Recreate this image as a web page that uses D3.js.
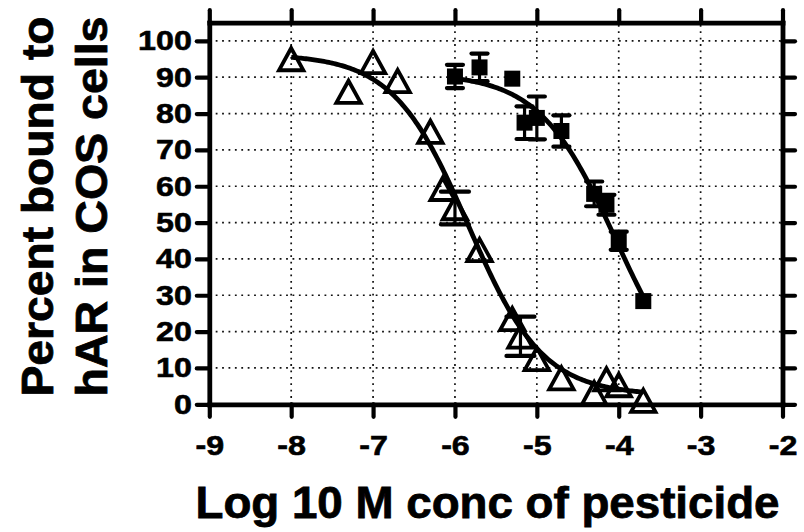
<!DOCTYPE html>
<html>
<head>
<meta charset="utf-8">
<script src="https://cdn.jsdelivr.net/npm/d3@7"></script>
<style>
  body { margin: 0; background: #fff; }
  svg { display: block; }
  text { font-family: "Liberation Sans", Arial, Helvetica, sans-serif; font-weight: bold; fill: #000; }
</style>
</head>
<body>
<svg id="chart" width="804" height="532"></svg>
<script>
// Axis ticks
const xTicks = [-9, -8, -7, -6, -5, -4, -3, -2];
const yTicks = [0, 10, 20, 30, 40, 50, 60, 70, 80, 90, 100];

// Open triangles: log10 molar concentration, percent bound, SEM
const triLogConc = [-8, -7.3, -7, -6.7, -6.3, -6.15, -6, -5.7, -5.3, -5.2, -5, -4.7, -4.3, -4.15, -4, -3.7];
const triPercent = [95, 86, 94.2, 89, 75, 59.3, 54, 42.5, 23.5, 18.7, 12.5, 7.2, 3.1, 6.9, 5.3, 1.0];
const triSem     = [0, 0, 0, 0, 0, 0, 4.5, 0, 0, 5.4, 0, 0, 0, 0, 0, 0];

// Filled squares: log10 molar concentration, percent bound, SEM
const sqLogConc = [-6, -5.7, -5.3, -5.15, -5, -4.7, -4.3, -4.15, -4, -3.7];
const sqPercent = [90.2, 92.7, 89.6, 77.5, 78.8, 75.2, 57.9, 54.9, 45.0, 28.4];
const sqSem     = [3.2, 3.8, 0, 4.5, 5.9, 4.3, 3.4, 2.75, 2.5, 0];

// Sigmoidal dose-response fits (top, bottom, logEC50, Hill slope, fitted range)
const triFit = { top: 96.3, bottom: 2.5, logEC50: -5.84, hill: 0.95, from: -8, to: -3.7 };
const sqFit  = { top: 91,   bottom: 0,   logEC50: -4.04, hill: 0.93, from: -6, to: -3.7 };

const xTitle = "Log 10 M conc of pesticide";
const yTitleLines = ["Percent bound to", "hAR in COS cells"];

const svg = d3.select("#chart");
const x = d3.scaleLinear().domain([-9, -2]).range([209.3, 782.5]);
const y = d3.scaleLinear().domain([0, 105]).range([404.3, 22.7]);

// dotted grid
const grid = svg.append("g").attr("stroke", "#111").attr("stroke-width", 1.7)
  .attr("stroke-dasharray", "1.8,4.6");
grid.selectAll("line.v").data(xTicks.slice(1, -1)).join("line")
  .attr("x1", d => x(d)).attr("x2", d => x(d))
  .attr("y1", y(0)).attr("y2", y(105));
grid.selectAll("line.h").data(yTicks.slice(1)).join("line")
  .attr("x1", x(-9)).attr("x2", x(-2))
  .attr("y1", d => y(d)).attr("y2", d => y(d));

// axes on all four sides
const tick = 12.5;
const fmt = d => String(d);
function styleAxis(g) {
  g.select(".domain").attr("stroke-width", 4.8).attr("stroke-linecap", "square");
  g.selectAll(".tick line").attr("stroke-width", 4.2).attr("stroke-linecap", "round");
  g.selectAll(".tick text").attr("font-size", 28).attr("fill", "#000")
    .attr("stroke", "#000").attr("stroke-width", 0.6)
    .style("font-family", '"Liberation Sans", Arial, sans-serif').style("font-weight", "bold")
    .each(function () {
      const w = this.getComputedTextLength();
      d3.select(this).attr("textLength", w * 1.15).attr("lengthAdjust", "spacingAndGlyphs");
    });
}
svg.append("g").attr("transform", `translate(0,${y(0)})`)
  .call(d3.axisBottom(x).tickValues(xTicks).tickFormat(fmt).tickSize(tick).tickSizeOuter(0).tickPadding(18))
  .call(styleAxis);
svg.append("g").attr("transform", `translate(0,${y(105)})`)
  .call(d3.axisTop(x).tickValues(xTicks).tickFormat("").tickSize(tick).tickSizeOuter(0))
  .call(styleAxis);
svg.append("g").attr("transform", `translate(${x(-9)},0)`)
  .call(d3.axisLeft(y).tickValues(yTicks).tickFormat(fmt).tickSize(tick).tickSizeOuter(0).tickPadding(5))
  .call(styleAxis);
svg.append("g").attr("transform", `translate(${x(-2)},0)`)
  .call(d3.axisRight(y).tickValues(yTicks).tickFormat("").tickSize(tick).tickSizeOuter(0))
  .call(styleAxis);

// fitted curves
function logistic(p, xv) {
  return p.bottom + (p.top - p.bottom) / (1 + Math.pow(10, (xv - p.logEC50) * p.hill));
}
const line = d3.line().x(d => x(d[0])).y(d => y(d[1])).curve(d3.curveLinear);
[triFit, sqFit].forEach(p => {
  const pts = d3.range(p.from, p.to + 1e-9, 0.02).map(v => [v, logistic(p, v)]);
  svg.append("path").datum(pts).attr("d", line)
    .attr("fill", "none").attr("stroke", "#000").attr("stroke-width", 4.8)
    .attr("stroke-linecap", "butt");
});

// error bars
function errorBars(xs, ys, es, capHalf) {
  const g = svg.append("g").attr("stroke", "#000");
  xs.forEach((xv, i) => {
    if (!es[i]) return;
    const cx = x(xv), yt = y(ys[i] + es[i]), yb = y(ys[i] - es[i]);
    g.append("line").attr("x1", cx).attr("x2", cx).attr("y1", yt).attr("y2", yb).attr("stroke-width", 3.2);
    [yt, yb].forEach(yy => g.append("line")
      .attr("x1", cx - capHalf).attr("x2", cx + capHalf).attr("y1", yy).attr("y2", yy)
      .attr("stroke-width", 4.2).attr("stroke-linecap", "round"));
  });
}
errorBars(sqLogConc, sqPercent, sqSem, 8);
errorBars(triLogConc, triPercent, triSem, 14);

// filled squares
const sq = 16;
svg.append("g").selectAll("rect").data(sqLogConc).join("rect")
  .attr("x", (d) => x(d) - sq / 2)
  .attr("y", (d, i) => y(sqPercent[i]) - sq / 2)
  .attr("width", sq).attr("height", sq).attr("fill", "#000");

// open triangles
svg.append("g").selectAll("path").data(triLogConc).join("path")
  .attr("transform", (d, i) => `translate(${x(d)},${y(triPercent[i])})`)
  .attr("d", "M0,-11L12.2,11.2L-12.2,11.2Z")
  .attr("fill", "none").attr("stroke", "#000").attr("stroke-width", 3.8)
  .attr("stroke-linejoin", "miter");

// titles
svg.append("text").attr("x", 487.5).attr("y", 518).attr("text-anchor", "middle")
  .attr("font-size", 45).attr("stroke", "#000").attr("stroke-width", 0.8)
  .attr("textLength", 584).attr("lengthAdjust", "spacingAndGlyphs")
  .text(xTitle);
[53, 107].forEach((bx, i) => {
  svg.append("text").attr("transform", `translate(${bx},206.5) rotate(-90)`)
    .attr("text-anchor", "middle").attr("font-size", 45)
    .attr("stroke", "#000").attr("stroke-width", 0.8)
    .attr("textLength", 380).attr("lengthAdjust", "spacingAndGlyphs")
    .text(yTitleLines[i]);
});
</script>
</body>
</html>
